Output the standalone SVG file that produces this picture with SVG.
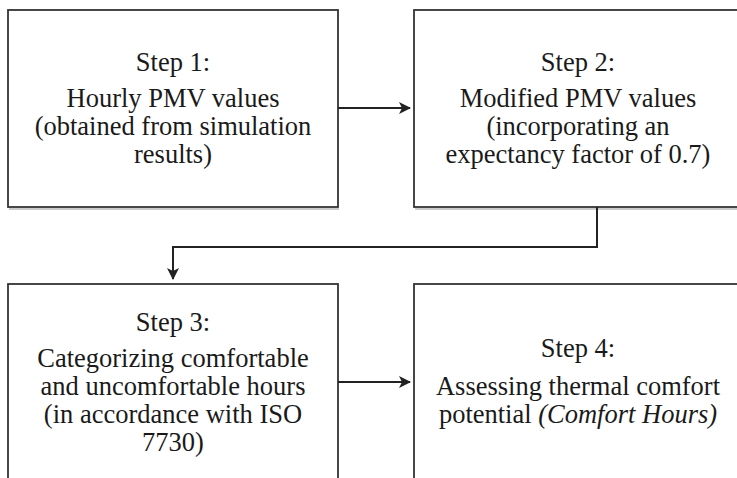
<svg xmlns="http://www.w3.org/2000/svg" width="737" height="478" viewBox="0 0 737 478">
<style>
.box{fill:#fff;stroke:#333;stroke-width:1.8}
.sh{fill:none;stroke:#ccc;stroke-width:2}
.t{font-family:"Liberation Serif","Times New Roman",serif;font-size:26.5px;fill:#1a1a1a;text-anchor:middle}
.c{fill:none;stroke:#222;stroke-width:2}
</style>
<defs>
<marker id="ah" viewBox="0 0 12 12" refX="11" refY="6" markerWidth="12" markerHeight="12" markerUnits="userSpaceOnUse" orient="auto">
<path d="M0,0 L12,6 L0,12 L3,6 Z" fill="#222"/>
</marker>
</defs>
<rect width="737" height="478" fill="#fff"/>
<g id="step1">
<path class="sh" d="M9,209 H339"/>
<rect class="box" x="8" y="10" width="330" height="197"/>
<text class="t" x="173" y="71">Step 1:</text>
<text class="t" x="173" y="107">Hourly PMV values</text>
<text class="t" x="173" y="135">(obtained from simulation</text>
<text class="t" x="173" y="163">results)</text>
</g>
<g id="step2">
<path class="sh" d="M415,209 H745"/>
<rect class="box" x="414" y="10" width="330" height="197"/>
<text class="t" x="578" y="71">Step 2:</text>
<text class="t" x="578" y="107">Modified PMV values</text>
<text class="t" x="578" y="135">(incorporating an</text>
<text class="t" x="578" y="163">expectancy factor of 0.7)</text>
</g>
<g id="step3">
<rect class="box" x="8" y="284" width="330" height="220"/>
<text class="t" x="173" y="331">Step 3:</text>
<text class="t" x="173" y="367">Categorizing comfortable</text>
<text class="t" x="173" y="395">and uncomfortable hours</text>
<text class="t" x="173" y="423">(in accordance with ISO</text>
<text class="t" x="173" y="451">7730)</text>
</g>
<g id="step4">
<rect class="box" x="414" y="284" width="330" height="220"/>
<text class="t" x="578" y="357">Step 4:</text>
<text class="t" x="578" y="395">Assessing thermal comfort</text>
<text class="t" x="578" y="423">potential <tspan font-style="italic">(Comfort Hours)</tspan></text>
</g>
<g id="connectors">
<path class="c" d="M338,108 H410" marker-end="url(#ah)"/>
<path class="c" d="M597,207 V247 H173 V279" marker-end="url(#ah)"/>
<path class="c" d="M338,382 H410" marker-end="url(#ah)"/>
</g>
</svg>
